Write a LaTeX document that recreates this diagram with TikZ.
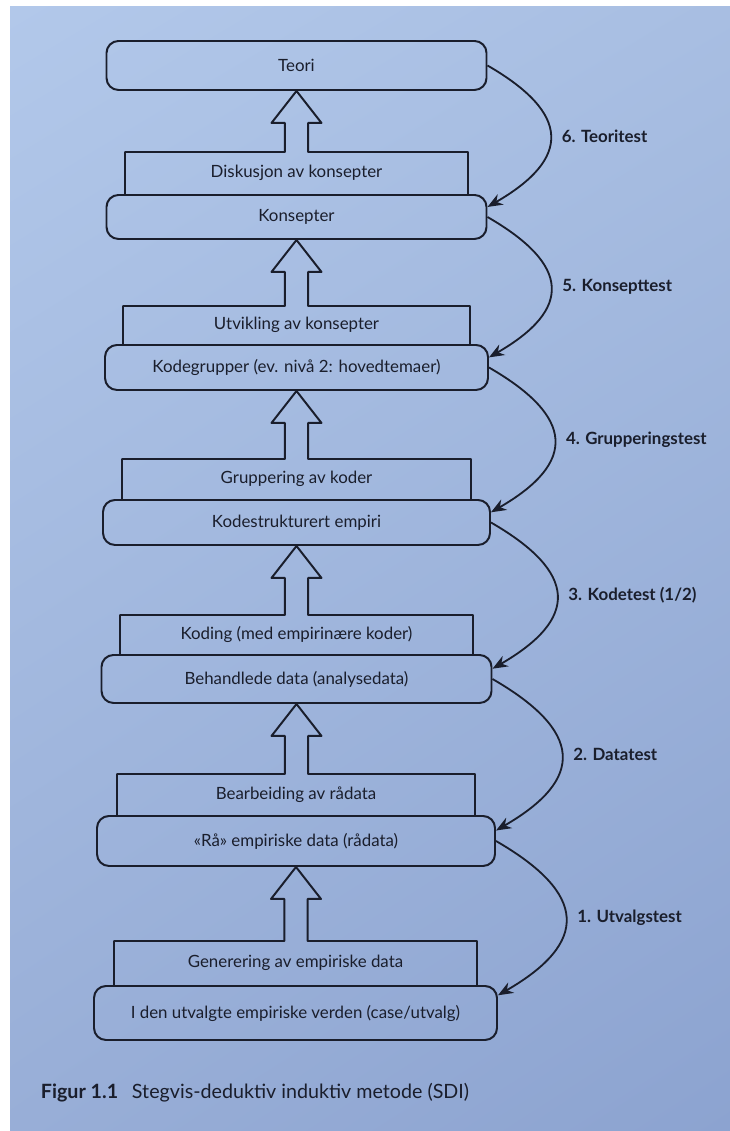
\documentclass[tikz,border=0pt]{standalone}
\usepackage{fontspec}
\setmainfont{Lato}
\usetikzlibrary{positioning,calc,arrows.meta,shadings}

\newcommand{\hollowstep}[2]{%
	\draw[stepline] let \p1=(#1.south), \p2=(#2.north) in
		(#2.south west) -- (#2.north west) -- (\x1-2.9mm,\y2) -- (\x1-2.9mm,\y1-8mm) -- (\x1-6.25mm,\y1-8mm) -- (\x1,\y1)
		-- (\x1+6.25mm,\y1-8mm) -- (\x1+2.9mm,\y1-8mm) -- (\x1+2.9mm,\y2) -- (#2.north east) -- (#2.south east);}

\begin{document}
\begin{tikzpicture}[x=0.25mm, y=0.25mm,
		lvlbox/.style={draw=ink, line width=1.4pt, rounded corners=3mm, text=ink, font=\fontsize{12}{14}\selectfont},
		plat/.style={inner sep=0pt, outer sep=0pt, text=ink, font=\fontsize{12}{14}\selectfont},
		stepline/.style={draw=ink, line width=1.4pt, line join=round},
		testarc/.style={draw=ink, line width=1.3pt, -{Stealth[length=3.8mm,width=3mm]}},
		testlbl/.style={midway, right=1.5mm, text=ink, font=\fontsize{12}{14}\selectfont\bfseries}]
	\definecolor{ink}{RGB}{26, 30, 44}
	\definecolor{paperA}{RGB}{178, 200, 234}
	\definecolor{paperB}{RGB}{168, 190, 226}
	\definecolor{paperC}{RGB}{152, 174, 215}
	\definecolor{paperD}{RGB}{140, 163, 208}
	\useasboundingbox (0,0) rectangle (730,1131);
	\fill[white] (0,0) rectangle (730,1131);
	\shade[upper left=paperA, upper right=paperB, lower left=paperC, lower right=paperD] (10,0) rectangle (730,1124);

	\node[lvlbox, minimum width=95mm, minimum height=12.25mm] (teori) at (296.5,1065.5) {Teori};
	\node[lvlbox, minimum width=95mm, minimum height=11mm] (kons) at (296.5,914) {Konsepter};
	\node[lvlbox, minimum width=95.75mm, minimum height=11.25mm] (kodegr) at (296.5,763.5) {Kodegrupper (ev. nivå 2: hovedtemaer)};
	\node[lvlbox, minimum width=96.75mm, minimum height=11.25mm] (kodestr) at (296.5,608.5) {Kodestrukturert empiri};
	\node[lvlbox, minimum width=97.5mm, minimum height=12mm] (behandl) at (296.5,452) {Behandlede data (analysedata)};
	\node[lvlbox, minimum width=99.5mm, minimum height=12.5mm] (raa) at (296,290) {«Rå» empiriske data (rådata)};
	\node[lvlbox, minimum width=100.75mm, minimum height=13.5mm] (iden) at (295.5,118) {I den utvalgte empiriske verden (case/utvalg)};

	\node[plat, minimum width=85.75mm, minimum height=10.5mm, above=0pt of kons] (disk) {Diskusjon av konsepter};
	\node[plat, minimum width=86.75mm, minimum height=9.5mm, above=0pt of kodegr] (utv) {Utvikling av konsepter};
	\node[plat, minimum width=87.25mm, minimum height=10mm, above=0pt of kodestr] (grup) {Gruppering av koder};
	\node[plat, minimum width=88.25mm, minimum height=9.75mm, above=0pt of behandl] (kod) {Koding (med empirinære koder)};
	\node[plat, minimum width=89.5mm, minimum height=10.25mm, above=0pt of raa] (bearb) {Bearbeiding av rådata};
	\node[plat, minimum width=90.75mm, minimum height=11mm, above=0pt of iden] (gen) {Generering av empiriske data};

	\hollowstep{teori}{disk}
	\hollowstep{kons}{utv}
	\hollowstep{kodegr}{grup}
	\hollowstep{kodestr}{kod}
	\hollowstep{behandl}{bearb}
	\hollowstep{raa}{gen}

	\draw[testarc] (teori.east) to[out=-30, in=30, looseness=1.75] node[testlbl] {6. Teoritest} (kons.3);
	\draw[testarc] (kons.east) to[out=-30, in=30, looseness=1.75] node[testlbl] {5. Konsepttest} (kodegr.3);
	\draw[testarc] (kodegr.east) to[out=-30, in=30, looseness=1.75] node[testlbl] {4. Grupperingstest} (kodestr.3);
	\draw[testarc] (kodestr.east) to[out=-30, in=30, looseness=1.75] node[testlbl] {3. Kodetest (1/2)} (behandl.3);
	\draw[testarc] (behandl.east) to[out=-30, in=30, looseness=1.75] node[testlbl] {2. Datatest} (raa.3);
	\draw[testarc] (raa.east) to[out=-30, in=30, looseness=1.75] node[testlbl] {1. Utvalgstest} (iden.5);

	\node[anchor=west, text=ink, font=\fontsize{14}{16}\selectfont] (cap) at (36,38) {\textbf{Figur 1.1}\hspace{0.7em}Stegvis-deduktiv induktiv metode (SDI)};
\end{tikzpicture}
\end{document}
